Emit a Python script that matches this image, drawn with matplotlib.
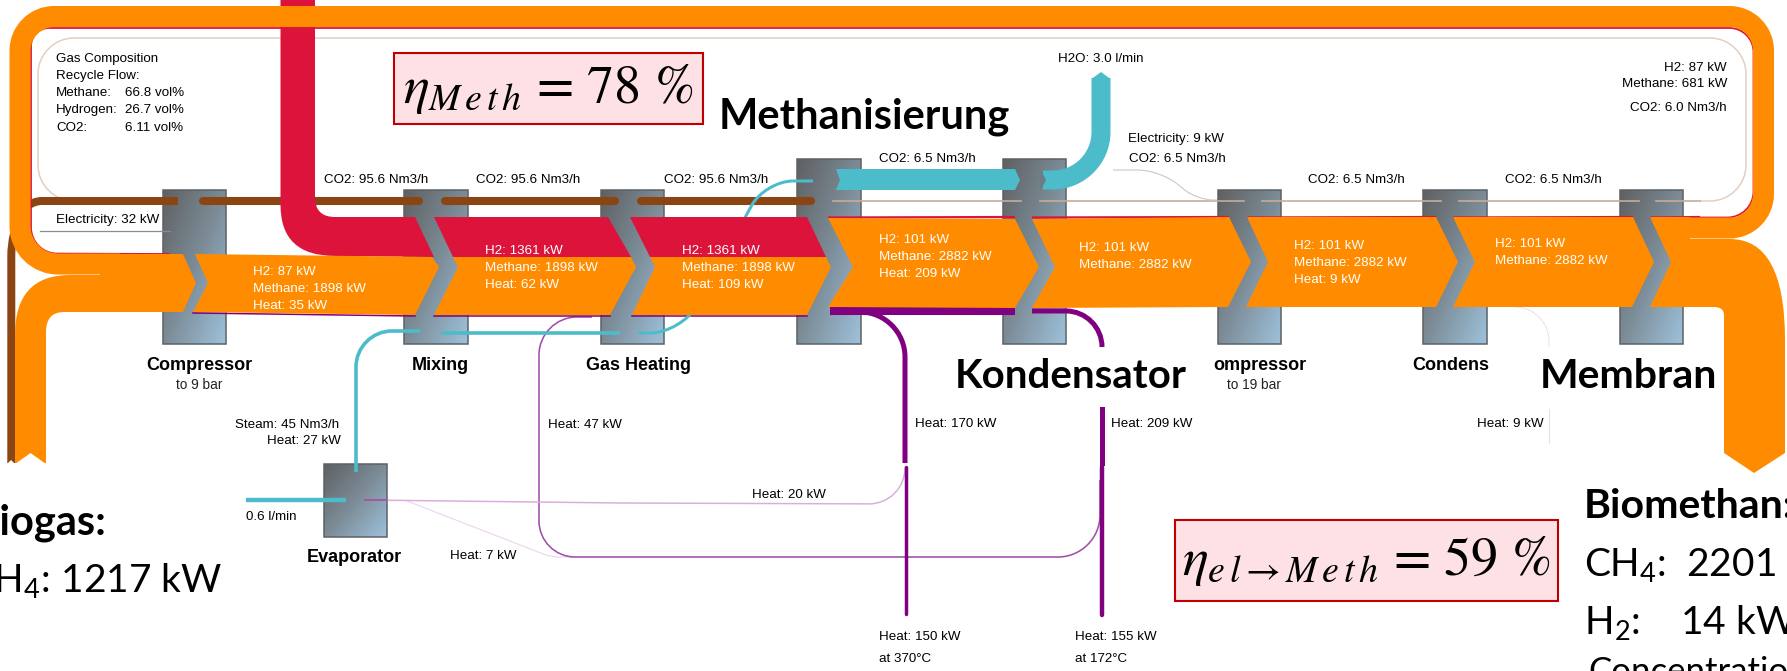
import numpy as np
import matplotlib
matplotlib.use("Agg")
import matplotlib.pyplot as plt
from matplotlib.colors import LinearSegmentedColormap
from matplotlib.patches import PathPatch, Polygon, Rectangle
from matplotlib.path import Path

plt.rcParams['font.family'] = ['Liberation Sans', 'DejaVu Sans']
plt.rcParams['mathtext.default'] = 'regular'

# values
unit_names = ['Compressor', 'Mixing', 'Gas Heating', 'ompressor', 'Condens', 'Evaporator']
unit_notes = ['to 9 bar', 'to 19 bar']
h2_kw = [87, 1361, 1361, 101, 101, 101, 101]
methane_kw = [1898, 1898, 1898, 2882, 2882, 2882, 2882]
heat_kw = [35, 62, 109, 209, None, 9, None]
co2_recycle = [95.6, 95.6, 95.6]
co2_product = [6.5, 6.5, 6.5, 6.5]
gas_names = ['Methane:', 'Hydrogen:', 'CO2:']
gas_values = [66.8, 26.7, 6.11]
heat_labels = ['Heat: 47 kW', 'Heat: 170 kW', 'Heat: 209 kW', 'Heat: 9 kW', 'Heat: 20 kW', 'Heat: 7 kW']
heat_out_labels = ['Heat: 150 kW\nat 370°C', 'Heat: 155 kW\nat 172°C']
big_labels = ['Methanisierung', 'Kondensator', 'Membran']

ORANGE = '#ff8c00'
RED = '#dc143c'
BROWN = '#8b4513'
TEAL = '#4cbccb'
PURPLE = '#800080'
LIGHT_BROWN = '#e0cfc3'
SMALL = 9.6

# layout, in pixels of the picture
unit_boxes = [(163, 190, 226, 344), (404, 190, 468, 344), (601, 190, 664, 344),
              (797, 159, 861, 344), (1003, 159, 1066, 344), (1218, 190, 1281, 344),
              (1423, 190, 1487, 344), (1620, 190, 1683, 344), (324, 464, 387, 537)]
orange_bands = [
    [(100, 254), (183, 254), (196, 283), (183, 312), (100, 312)],
    [(195, 254), (432, 257), (439, 267), (415, 315), (193, 312), (208, 283)],
    [(453, 257), (631, 257), (636, 267), (610, 315), (434, 315), (458, 267)],
    [(650, 257), (826, 257), (831, 267), (807, 315), (632, 315), (655, 267)],
    [(828, 218), (1015, 219), (1039, 267), (1015, 308), (828, 307), (853, 267)],
    [(1032, 219), (1229, 217), (1251, 262), (1228, 307), (1032, 308), (1055, 267)],
    [(1247, 217), (1436, 217), (1458, 262), (1436, 307), (1246, 307), (1268, 262)],
    [(1453, 217), (1633, 217), (1654, 262), (1632, 307), (1453, 307), (1475, 262)],
]
red_bands = [
    [(434, 217), (608, 217), (631, 257), (453, 257)],
    [(630, 217), (807, 217), (826, 257), (650, 257)],
]
red_top_lines = [(828, 1015), (1032, 1229), (1247, 1436), (1453, 1633), (1650, 1700)]
brown_spans = [(199, 423), (441, 619), (637, 815)]
thin_spans = [(833, 1021), (1040, 1244), (1262, 1441), (1459, 1639), (1656, 1700)]

fig = plt.figure(figsize=(17.87, 6.71), dpi=100)
ax = fig.add_axes([0, 0, 1, 1])

unit_cmap = LinearSegmentedColormap.from_list('unit', ['#5f6163', '#7c8c97', '#9dc1da'])


def stroke(points, radii, width, color, z, cap='butt', alpha=None):
    # polyline with rounded corners, width in pixels
    verts = [points[0]]
    codes = [Path.MOVETO]
    for i in range(1, len(points) - 1):
        p0, p1, p2 = [np.array(p, dtype=float) for p in points[i - 1:i + 2]]
        r = radii[i - 1]
        a = p1 + (p0 - p1) / np.linalg.norm(p0 - p1) * r
        b = p1 + (p2 - p1) / np.linalg.norm(p2 - p1) * r
        verts += [a, a + (p1 - a) * 0.55, b + (p1 - b) * 0.55, b]
        codes += [Path.LINETO, Path.CURVE4, Path.CURVE4, Path.CURVE4]
    verts.append(points[-1])
    codes.append(Path.LINETO)
    ax.add_patch(PathPatch(Path(verts, codes), fill=False, edgecolor=color, lw=width * 0.72,
                           capstyle=cap, joinstyle='round', zorder=z, alpha=alpha))


def label(x, y, s, ha='left', color='black', size=SMALL, weight='normal', z=10):
    ax.text(x, y, s, ha=ha, va='center', color=color, fontsize=size, fontweight=weight,
            linespacing=1.22, zorder=z)


# thin recycle outline behind everything
stroke([(75, 201), (38, 201), (38, 38), (1746, 38), (1746, 201), (1700, 201)],
       [36, 36, 36, 36], 1.5, LIGHT_BROWN, 1)

# unit blocks with their gradient
for x0, y0, x1, y1 in unit_boxes:
    xx, yy = np.meshgrid(np.linspace(0, 1, 40), np.linspace(0, 1, 80))
    ax.imshow((xx + yy) / 2, extent=(x0, x1, y1, y0), cmap=unit_cmap, aspect='auto', zorder=2)
    ax.add_patch(Rectangle((x0, y0), x1 - x0, y1 - y0, fill=False, edgecolor='#5c6266', lw=1.1, zorder=2.1))

# electricity
stroke([(11.3, 463), (11.3, 245), (22, 201), (178, 201)], [10, 20], 8, BROWN, 3)
ax.plot([178, 178], [201, 201], color=BROWN, lw=5.8, solid_capstyle='round', zorder=3)
for a, b in brown_spans:
    ax.plot([a + 4, b - 4], [201, 201], color=BROWN, lw=5.8, solid_capstyle='round', zorder=3)
for a, b in thin_spans:
    ax.plot([a, b], [201, 201], color='#c9ab96', lw=1.2, zorder=3)
ax.plot([40, 170], [231, 231], color='#8c8c8c', lw=0.9, zorder=3)
stroke([(1113, 170), (1160, 170), (1197, 200), (1217, 200)], [22, 16], 1.1, '#c8c8c8', 3)

# steam and water
stroke([(356, 472), (356, 331), (420, 331)], [36], 1.6, '#a860b0', 3)
stroke([(356, 472), (356, 331), (420, 331)], [36], 3.6, TEAL, 3.1)
ax.plot([443, 618], [333, 333], color=TEAL, lw=2.6, zorder=3.1)
stroke([(638, 333), (682, 333), (765, 181), (813, 181)], [32, 28], 3, TEAL, 3.1)
ax.plot([246, 346], [500, 500], color=TEAL, lw=3.2, solid_capstyle='butt', zorder=3.1)
ax.add_patch(Polygon([(836, 169), (1015, 169), (1020, 180), (1015, 190), (836, 190), (840, 180)],
                     closed=True, fc=TEAL, ec='none', zorder=4))
stroke([(1101, 78), (1101, 180), (1043, 180)], [48], 19, TEAL, 4)
ax.add_patch(Polygon([(1091.5, 79), (1101, 72), (1110.5, 79)], closed=True, fc=TEAL, ec='none', zorder=4))
ax.add_patch(Polygon([(1040, 168), (1046, 180), (1040, 192)], closed=True, fc='#6f7c85', ec='none', zorder=4.1))

# heat
ax.plot([830, 1015], [311, 311], color=PURPLE, lw=5.8, solid_capstyle='butt', zorder=3)
ax.plot([193, 415], [313, 316], color=PURPLE, lw=1.1, zorder=3)
ax.plot([434, 610], [316, 316], color=PURPLE, lw=1.1, zorder=3)
ax.plot([632, 807], [316, 316], color=PURPLE, lw=1.1, zorder=3)
stroke([(840, 312), (905, 312), (905, 463)], [45], 5, PURPLE, 3)
stroke([(1032, 311), (1102, 311), (1102, 347)], [36], 5, PURPLE, 3)
ax.plot([1102, 1102], [409, 463], color=PURPLE, lw=3.6, zorder=3)
ax.plot([905.5, 905.5], [467, 614], color=PURPLE, lw=2.5, solid_capstyle='round', zorder=3)
ax.plot([1102, 1102], [467, 615], color=PURPLE, lw=3.2, solid_capstyle='round', zorder=3)
stroke([(1100, 480), (1100, 557), (539, 557), (539, 317), (592, 317)], [42, 36, 38], 1.6, '#a050a8', 2.9)
stroke([(905, 467), (905, 504), (620, 503), (365, 500)], [36, 1], 1.5, '#d9aedb', 2.9)
ax.plot([365, 387], [500, 500], color='#9a4aa0', lw=1.2, zorder=3)
stroke([(407, 501), (551, 557), (574, 557)], [8], 1.1, '#ecd3ee', 2.8)
stroke([(1514, 307), (1549, 307), (1549, 347)], [34], 1, '#ecdcf0', 2.8)
ax.plot([1549, 1549], [409, 443], color='#ecdcf0', lw=0.8, zorder=2.8)

# hydrogen feed, red sits under the loop
red_path = Path([(280.5, 0), (280.5, 205), (280.5, 256), (335, 256), (434, 257), (415, 217),
                 (335, 217), (315, 217), (315, 197), (315, 0), (280.5, 0)],
                [Path.MOVETO, Path.LINETO, Path.CURVE3, Path.CURVE3, Path.LINETO, Path.LINETO,
                 Path.LINETO, Path.CURVE3, Path.CURVE3, Path.LINETO, Path.CLOSEPOLY])
ax.add_patch(PathPatch(red_path, fc=RED, ec='none', zorder=4))
for pts in red_bands:
    ax.add_patch(Polygon(pts, closed=True, fc=RED, ec='none', zorder=4))
for a, b in red_top_lines:
    ax.plot([a, b], [217.5, 217], color=RED, lw=1.6, solid_capstyle='butt', zorder=5)

# recycle loop and feeds
stroke([(1700, 217.5), (1753.5, 217.5), (1753.5, 28), (31, 28), (31, 253.5), (170, 254)],
       [26, 24, 18, 26], 1.8, RED, 4.5)
stroke([(1690, 228), (1763.5, 228), (1763.5, 16.5), (20, 16.5), (20, 264), (120, 264)],
       [34, 34, 34, 38], 21, ORANGE, 5)
feed_path = Path([(15, 463), (15, 335), (15, 275), (70, 275), (120, 275), (120, 312), (64, 312),
                  (46, 312), (46, 332), (46, 463), (15, 463)],
                 [Path.MOVETO, Path.LINETO, Path.CURVE3, Path.CURVE3, Path.LINETO, Path.LINETO,
                  Path.LINETO, Path.CURVE3, Path.CURVE3, Path.LINETO, Path.CLOSEPOLY])
ax.add_patch(PathPatch(feed_path, fc=ORANGE, ec='none', zorder=5))
ax.add_patch(Polygon([(15, 464), (30.5, 453), (46, 464)], closed=True, fc='white', ec='none', zorder=5.5))
ax.add_patch(Polygon([(7, 464), (11, 460), (15, 464)], closed=True, fc='white', ec='none', zorder=5.5))

for pts in orange_bands:
    ax.add_patch(Polygon(pts, closed=True, fc=ORANGE, ec='none', zorder=6))

out_path = Path([(1650, 217), (1690, 217), (1690, 239), (1730, 239), (1785, 239), (1785, 340), (1785, 453),
                 (1754, 473), (1724, 453), (1724, 315), (1724, 307), (1714, 307), (1650, 307),
                 (1671, 262), (1650, 217)],
                [Path.MOVETO, Path.LINETO, Path.LINETO, Path.LINETO, Path.CURVE3, Path.CURVE3, Path.LINETO,
                 Path.LINETO, Path.LINETO, Path.LINETO, Path.CURVE3, Path.CURVE3, Path.LINETO,
                 Path.LINETO, Path.CLOSEPOLY])
ax.add_patch(PathPatch(out_path, fc=ORANGE, ec='none', zorder=6))

# white stream labels
band_label_xy = [(253, 272), (485, 251), (681.5, 251), (878.6, 240), (1079, 248), (1294, 246), (1495, 244)]
for (x, y), h2, me, he in zip(band_label_xy, h2_kw, methane_kw, heat_kw):
    rows = [f'H2: {h2} kW', f'Methane: {me} kW']
    if he is not None:
        rows.append(f'Heat: {he} kW')
    for i, row in enumerate(rows):
        label(x, y + i * 17, row, color='white')

# gas composition block
label(56, 59, 'Gas Composition')
label(56, 76, 'Recycle Flow:')
for i, (name, val) in enumerate(zip(gas_names, gas_values)):
    label(56, 93 + i * 17.3, name)
    label(125, 93 + i * 17.3, f'{val} vol%')

for (x, y), v in zip([(324.5, 180), (476.5, 180), (664, 180)], co2_recycle):
    label(x, y, f'CO2: {v} Nm3/h')
for (x, y), v in zip([(878.6, 159), (1129, 159), (1307.5, 180), (1504.6, 180)], co2_product):
    label(x, y, f'CO2: {v} Nm3/h')
label(1128, 139, 'Electricity: 9 kW')
label(56, 220, 'Electricity: 32 kW')
label(1057.7, 59, 'H2O: 3.0 l/min')
label(1727, 68, 'H2: 87 kW', ha='right')
label(1727, 84, 'Methane: 681 kW', ha='right')
label(1727, 108, 'CO2: 6.0 Nm3/h', ha='right')
label(339.5, 425, 'Steam: 45 Nm3/h', ha='right')
label(341, 441, 'Heat: 27 kW', ha='right')
label(246, 517, '0.6 l/min')

for (x, y), s in zip([(548, 425), (914.6, 424), (1111, 424), (1477, 424), (752, 495), (449.7, 556)], heat_labels):
    label(x, y, s)
for x, s in zip([878.6, 1075], heat_out_labels):
    a, b = s.split('\n')
    label(x, 637, a)
    label(x, 659, b)

# unit captions
for (x, y), s in zip([(199, 365), (440, 365), (638, 365), (1260, 365), (1451, 365), (354, 558)], unit_names):
    label(x, y, s, ha='center', weight='bold', size=13)
for x, s in zip([199, 1254], unit_notes):
    label(x, 385, s, ha='center', size=9.8, color='#222222')

# pasted headings
for (x, y), s, fs in zip([(864, 117), (1071, 377), (1628, 377)], big_labels, [30, 29, 29.5]):
    ax.text(x, y, s, ha='center', va='center', fontsize=fs, fontweight='bold', family=['Lato', 'DejaVu Sans'], zorder=11)

for x0, y0, x1, y1, s, tx in [(394, 53, 703, 124, r'$\mathit{\eta_{M\,e\,t\,h}}$ = 78 %', 548),
                              (1175, 520, 1558, 601, r'$\mathit{\eta_{e\,l\rightarrow M\,e\,t\,h}}$ = 59 %', 1366)]:
    ax.add_patch(Rectangle((x0, y0), x1 - x0, y1 - y0, fc='#fde1e4', ec='#c00000', lw=1.5, zorder=11))
    ax.text(tx, (y0 + y1) / 2, s, ha='center', va='center', fontsize=39, family='STIXGeneral',
            math_fontfamily='stix', zorder=12)

big = dict(family=['Lato', 'DejaVu Sans'], va='baseline', zorder=11, clip_on=False)
ax.text(106, 534, 'Biogas:', ha='right', fontsize=30, fontweight='bold', **big)
ax.text(222, 592, 'CH$_4$: 1217 kW', ha='right', fontsize=28, **big)
ax.text(1584, 518, 'Biomethan:', ha='left', fontsize=29.5, fontweight='bold', **big)
ax.text(1584, 576, 'CH$_4$:  2201 kW', ha='left', fontsize=28, **big)
ax.text(1584, 634, 'H$_2$:    14 kW', ha='left', fontsize=28, **big)
ax.text(1588, 682, 'Concentration', ha='left', fontsize=25, **big)

ax.set_xlim(0, 1787)
ax.set_ylim(671, 0)
ax.axis('off')
fig.savefig('out.png', dpi=100)
